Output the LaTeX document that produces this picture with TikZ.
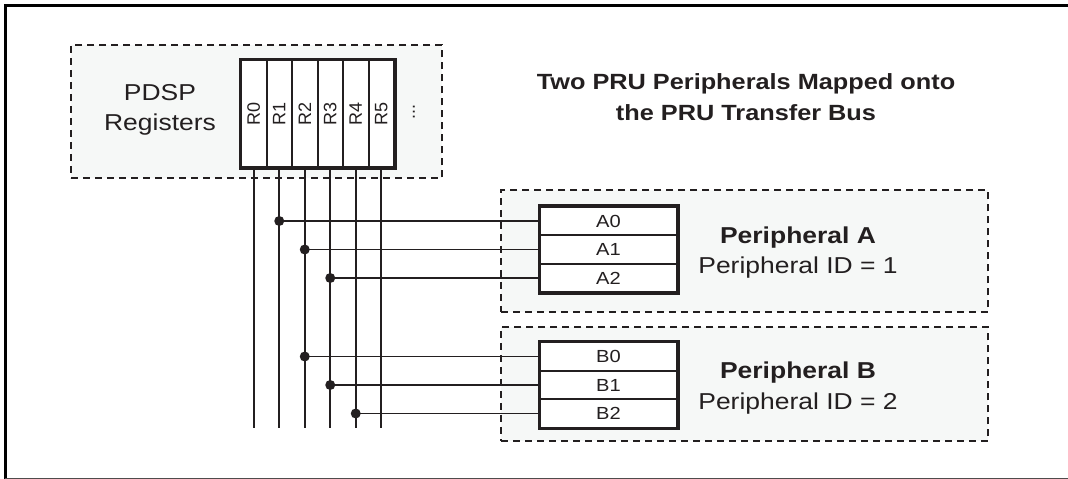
\documentclass[tikz,border=0pt]{standalone}
\usepackage{fontspec}
\setmainfont{Liberation Sans}[FakeStretch=1.15]
\newfontfamily\plainsans{Liberation Sans}
\usetikzlibrary{positioning}
\definecolor{grpfill}{HTML}{F6F8F7}
\definecolor{ink}{HTML}{231F20}
\tikzset{grp/.style={draw=ink,fill=grpfill,dashed,dash pattern=on 7pt off 5pt,line width=1.8pt},
  reg/.style={draw=ink,fill=white,line width=2pt,minimum width=25.5pt,minimum height=107pt,
    inner sep=0pt,text=ink,font=\plainsans\fontsize{18}{20}\selectfont},
  slot/.style={draw=ink,fill=white,line width=2pt,minimum width=137pt,minimum height=28.5pt,
    inner sep=0pt,text=ink,font=\fontsize{17.5}{20}\selectfont},
  bus/.style={draw=ink,line width=1.8pt},
  tap/.style={circle,fill=ink,inner sep=0pt,minimum size=10pt},
  big/.style={font=\fontsize{23}{30.5}\selectfont,text=ink,align=center}}

\begin{document}
\begin{tikzpicture}[x=1pt,y=-1pt]
  \path[use as bounding box] (0,0) rectangle (1068,479);
  % outer frame
  \draw[line width=3pt] (5,479) -- (5,5.5) -- (1068,5.5);
  \draw[line width=1pt,ink!80] (5,478) -- (1068,478);
  % groups
  \node[grp,minimum width=371pt,minimum height=133pt] (pdsp) at (256.5,111.5) {};
  \node[grp,minimum width=487pt,minimum height=122pt] (pera) at (744.5,251) {};
  \node[grp,minimum width=487pt,minimum height=114pt] (perb) at (744.5,384) {};
  \node[big] at (160,110) {PDSP\\Registers};
  \node[big,font=\bfseries\fontsize{22}{31}\selectfont] at (746,97) {Two PRU Peripherals Mapped onto\\the PRU Transfer Bus};
  % registers
  \foreach \i in {0,...,5}{
    \node[reg] (r\i) at ({253.75+25.5*\i},113.5) {\rotatebox{90}{R\i}};
  }
  \draw[ink,line width=3pt] (r0.north west) rectangle (r5.south east);
  \node[font=\plainsans\fontsize{18}{18}\selectfont,text=ink] (more) at (414,112) {\rotatebox{90}{...}};
  % peripheral slots
  \foreach \j/\y in {0/221,1/249.5,2/278}{
    \node[slot] (a\j) at (608.5,\y) {A\j};
  }
  \foreach \j/\y in {0/356.5,1/385,2/413.5}{
    \node[slot] (b\j) at (608.5,\y) {B\j};
  }
  \draw[ink,line width=3pt] (a0.north west) rectangle (a2.south east);
  \draw[ink,line width=3pt] (b0.north west) rectangle (b2.south east);
  \node[big] at (798,252.5) {\textbf{Peripheral A}\\Peripheral ID = 1};
  \node[big] at (798,388) {\textbf{Peripheral B}\\Peripheral ID = 2};
  % transfer bus
  \coordinate (bot) at (0,428);
  \foreach \i in {0,...,5}{
    \draw[bus] (r\i.south) -- (r\i.south |- bot);
  }
  \foreach \s/\r in {a0/r1,a1/r2,a2/r3,b0/r2,b1/r3,b2/r4}{
    \draw[bus] (\s.west) -- (\s.west -| \r) node[tap] {};
  }
\end{tikzpicture}
\end{document}
